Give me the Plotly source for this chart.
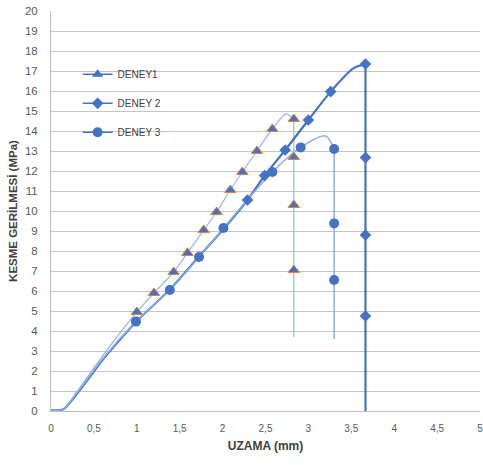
import plotly.graph_objects as go

# ---- data (elongation in mm, shear stress in MPa) ----
d1_curve_x = [0.0, 0.14, 0.30, 0.60, 1.00, 1.20, 1.43, 1.59, 1.78, 1.93, 2.09, 2.23, 2.40, 2.58, 2.74, 2.83]
d1_curve_y = [0.05, 0.08, 0.95, 2.75, 4.95, 5.90, 6.95, 7.90, 9.05, 9.95, 11.05, 11.95, 13.00, 14.10, 14.85, 14.60]
d1_mark_x = [1.00, 1.20, 1.43, 1.59, 1.78, 1.93, 2.09, 2.23, 2.40, 2.58, 2.83]
d1_mark_y = [4.95, 5.90, 6.95, 7.90, 9.05, 9.95, 11.05, 11.95, 13.00, 14.10, 14.60]
d1_drop_x = 2.83
d1_drop_y = [14.60, 12.70, 10.30, 7.05, 3.70]

d2_curve_x = [0.0, 0.14, 0.30, 0.60, 0.80, 1.00, 1.38, 1.72, 2.01, 2.29, 2.49, 2.73, 3.00, 3.26, 3.52, 3.665]
d2_curve_y = [0.05, 0.08, 0.85, 2.55, 3.55, 4.50, 6.05, 7.70, 9.10, 10.55, 11.77, 13.05, 14.55, 15.97, 17.12, 17.35]
d2_mark_x = [2.29, 2.49, 2.73, 3.00, 3.26, 3.665]
d2_mark_y = [10.55, 11.77, 13.05, 14.55, 15.97, 17.35]
d2_drop_x = 3.665
d2_drop_y = [17.35, 12.67, 8.80, 4.75, 0.0]

d3_curve_x = [0.0, 0.14, 0.30, 0.60, 0.99, 1.385, 1.725, 2.01, 2.58, 2.91, 3.20, 3.30]
d3_curve_y = [0.05, 0.08, 0.90, 2.60, 4.47, 6.05, 7.70, 9.15, 11.95, 13.18, 13.75, 13.10]
d3_mark_x = [0.99, 1.385, 1.725, 2.01, 2.58, 2.91, 3.30]
d3_mark_y = [4.47, 6.05, 7.70, 9.15, 11.95, 13.18, 13.10]
d3_drop_x = 3.30
d3_drop_y = [13.10, 9.38, 6.55, 3.60]

x_ticks = [0, 0.5, 1, 1.5, 2, 2.5, 3, 3.5, 4, 4.5, 5]
x_tick_text = ["0", "0,5", "1", "1,5", "2", "2,5", "3", "3,5", "4", "4,5", "5"]
y_ticks = list(range(0, 21))

names = ["DENEY1", "DENEY 2", "DENEY 3"]

BLUE = "#4472C4"
ORANGE = "#ED7D31"
FONT = "Liberation Sans Narrow, Liberation Sans, Arial"

fig = go.Figure()

series = [
    dict(cx=d1_curve_x, cy=d1_curve_y, mx=d1_mark_x, my=d1_mark_y, dx=d1_drop_x, dy=d1_drop_y,
         color="#9DBDEB", width=1.3, symbol="triangle-up", msize=10, mline=dict(color=ORANGE, width=1)),
    dict(cx=d2_curve_x, cy=d2_curve_y, mx=d2_mark_x, my=d2_mark_y, dx=d2_drop_x, dy=d2_drop_y,
         color=BLUE, width=2.2, symbol="diamond", msize=9, mline=dict(width=0)),
    dict(cx=d3_curve_x, cy=d3_curve_y, mx=d3_mark_x, my=d3_mark_y, dx=d3_drop_x, dy=d3_drop_y,
         color="#8CAEE6", width=1.5, symbol="circle", msize=10, mline=dict(width=0)),
]

for s in series:
    # smoothed loading curve
    fig.add_trace(go.Scatter(x=s["cx"], y=s["cy"], mode="lines",
                             line=dict(color=s["color"], width=s["width"], shape="spline", smoothing=0.8),
                             showlegend=False, hoverinfo="skip"))
    # vertical drop after failure
    fig.add_trace(go.Scatter(x=[s["dx"]] * len(s["dy"]), y=s["dy"], mode="lines",
                             line=dict(color=s["color"], width=s["width"]),
                             showlegend=False, hoverinfo="skip"))

for s in series:
    drop_mx = [s["dx"]] * (len(s["dy"]) - 2)
    drop_my = s["dy"][1:-1]
    fig.add_trace(go.Scatter(x=s["mx"] + drop_mx, y=s["my"] + drop_my, mode="markers",
                             marker=dict(symbol=s["symbol"], size=s["msize"], color=BLUE, line=s["mline"]),
                             showlegend=False))

# legend entries
for i, s in enumerate(series):
    fig.add_trace(go.Scatter(x=[None], y=[None], mode="lines+markers", name=names[i],
                             legendgroup=str(i),
                             line=dict(color=BLUE, width=1.5),
                             marker=dict(symbol=s["symbol"], size=s["msize"], color=BLUE)))

fig.update_layout(
    width=483, height=465,
    margin=dict(l=51, r=0, t=11, b=54),
    paper_bgcolor="white", plot_bgcolor="white",
    font=dict(family=FONT, color="#595959"),
    legend=dict(x=0.062, y=0.878, xanchor="left", yanchor="top", bgcolor="rgba(0,0,0,0)",
                traceorder="grouped", tracegroupgap=10,
                font=dict(size=10, color="#404040"), itemwidth=30),
    xaxis=dict(range=[0, 5], tickvals=x_ticks, ticktext=x_tick_text, showgrid=False,
               zeroline=False, showline=True, linecolor="#BFBFBF", linewidth=1,
               ticks="", tickfont=dict(size=10, color="#595959"), ticklabelstandoff=8,
               ticklabeloverflow="allow",
               title=dict(text="<b>UZAMA (mm)</b>", font=dict(size=12, color="#404040"), standoff=8)),
    yaxis=dict(range=[0, 20], tickvals=y_ticks, showgrid=True, gridcolor="#C4C4C4", gridwidth=1,
               zeroline=False, showline=True, linecolor="#BFBFBF", linewidth=1,
               ticks="", tickfont=dict(size=11.5, color="#595959"), ticklabelstandoff=10,
               title=dict(text="<b>KESME GERİLMESİ (MPa)</b>", font=dict(size=11.5, color="#404040"), standoff=4)),
)

fig.write_html("out.html")
